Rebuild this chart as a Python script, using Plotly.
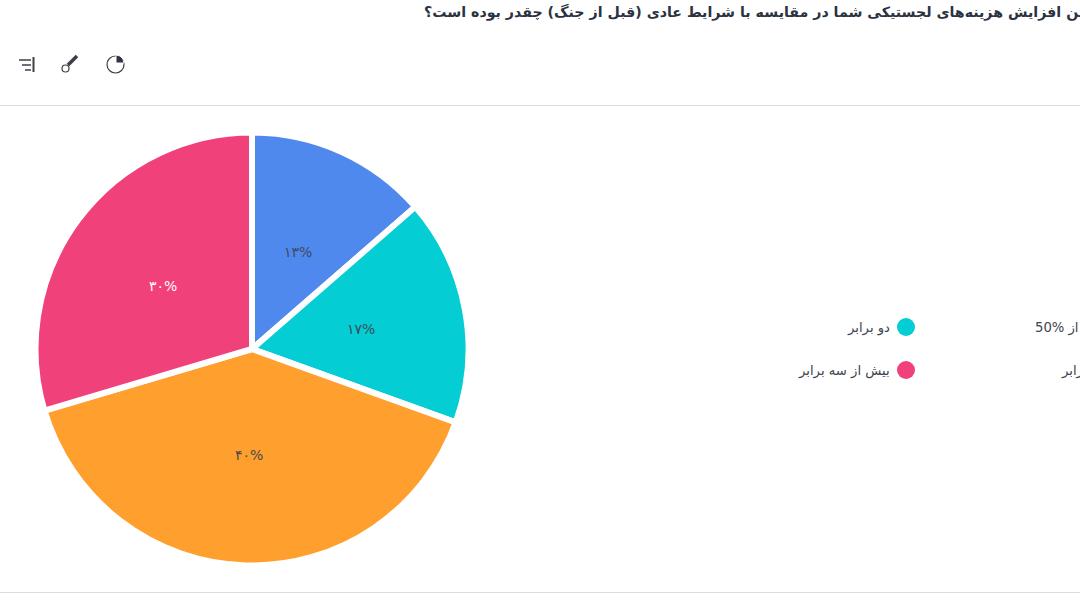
import math
import plotly.graph_objects as go

W, H = 1080, 603

title_text = "\u200fمیانگین افزایش هزینه\u200cهای لجستیکی شما در مقایسه با شرایط عادی (قبل از جنگ) چقدر بوده است؟"
categories = ["کمتر از %50", "دو برابر", "بین دو تا سه برابر", "بیش از سه برابر"]
values = [13.6, 16.9, 39.9, 29.6]
value_labels = ["۱۳%", "۱۷%", "۴۰%", "۳۰%"]
colors = ["#5089ED", "#04CDD4", "#FF9F2E", "#F0417B"]
label_colors = ["#3d4a5c", "#3d4a5c", "#4a4a48", "#ffffff"]

FONT = "DejaVu Sans, Noto Sans, sans-serif"
CX, CY, R = 252, 349, 216.5


def px(x):
    return x / W


def py(y):
    return 1 - y / H


def path(points, close=False):
    s = "M " + " L ".join(f"{px(x):.5f},{py(y):.5f}" for x, y in points)
    return s + (" Z" if close else "")


fig = go.Figure(
    go.Pie(
        labels=categories,
        values=values,
        customdata=value_labels,
        textinfo="none",
        sort=False,
        direction="clockwise",
        rotation=0,
        marker=dict(colors=colors, line=dict(color="#ffffff", width=6)),
        domain=dict(x=[px(CX - R), px(CX + R)], y=[py(CY + R), py(CY - R)]),
        showlegend=False,
        hovertemplate="%{label}: %{customdata}<extra></extra>",
    )
)

shapes = [
    dict(type="line", xref="paper", yref="paper", x0=0, x1=1, y0=py(105.5), y1=py(105.5),
         line=dict(color="#dcdcdc", width=1)),
    dict(type="line", xref="paper", yref="paper", x0=0, x1=1, y0=py(592.5), y1=py(592.5),
         line=dict(color="#dcdcdc", width=1)),
]

# toolbar icons
icon = "#3a3f4a"
for x0, x1, y in [(19, 31, 60), (22, 31, 65), (25, 31, 70)]:
    shapes.append(dict(type="line", xref="paper", yref="paper", x0=px(x0), x1=px(x1), y0=py(y), y1=py(y),
                       line=dict(color=icon, width=1.5)))
shapes.append(dict(type="line", xref="paper", yref="paper", x0=px(33.5), x1=px(33.5), y0=py(57), y1=py(72),
                   line=dict(color=icon, width=2)))
shapes.append(dict(type="line", xref="paper", yref="paper", x0=px(68), x1=px(77), y0=py(65), y1=py(56),
                   line=dict(color=icon, width=3.5)))
shapes.append(dict(type="circle", xref="paper", yref="paper", x0=px(62), x1=px(69), y0=py(72), y1=py(65),
                   line=dict(color=icon, width=1.2), fillcolor="#ffffff"))
shapes.append(dict(type="circle", xref="paper", yref="paper", x0=px(107), x1=px(124), y0=py(73), y1=py(56),
                   line=dict(color=icon, width=1.2), fillcolor="#ffffff"))
shapes.append(dict(type="path", xref="paper", yref="paper",
                   path=path([(116, 55), (120, 56), (123, 59), (124, 63), (116, 63)], True),
                   line=dict(color="#ffffff", width=1), fillcolor="#2f3440"))

# legend dots
shapes.append(dict(type="circle", xref="paper", yref="paper", x0=px(897), x1=px(915), y0=py(336), y1=py(318),
                   line=dict(width=0), fillcolor=colors[1]))
shapes.append(dict(type="circle", xref="paper", yref="paper", x0=px(897), x1=px(915), y0=py(379), y1=py(361),
                   line=dict(width=0), fillcolor=colors[3]))

annotations = [
    dict(text="<b>" + title_text + "</b>", x=px(422), y=py(12), xref="paper", yref="paper",
         xanchor="left", yanchor="middle", showarrow=False, align="left",
         font=dict(size=14.2, color="#2b3240", family=FONT)),
    dict(text="\u200f" + categories[1], x=px(892), y=py(328), xref="paper", yref="paper",
         xanchor="right", yanchor="middle", showarrow=False,
         font=dict(size=13.2, color="#3d4350", family=FONT)),
    dict(text="\u200f" + categories[3], x=px(892), y=py(371), xref="paper", yref="paper",
         xanchor="right", yanchor="middle", showarrow=False,
         font=dict(size=13.2, color="#3d4350", family=FONT)),
    dict(text="\u200f" + categories[0], x=px(1033), y=py(328), xref="paper", yref="paper",
         xanchor="left", yanchor="middle", showarrow=False,
         font=dict(size=13.2, color="#3d4350", family=FONT)),
    dict(text="\u200f" + categories[2], x=px(1059), y=py(371), xref="paper", yref="paper",
         xanchor="left", yanchor="middle", showarrow=False,
         font=dict(size=13.2, color="#3d4350", family=FONT)),
]

# value labels sit on each slice's mid-angle, about half the radius out
total = sum(values)
cumulative = 0
for value, label, color in zip(values, value_labels, label_colors):
    mid = (cumulative + value / 2) / total * 2 * math.pi
    cumulative += value
    annotations.append(dict(
        text=label,
        x=px(CX + 0.51 * R * math.sin(mid)), y=py(CY - 0.49 * R * math.cos(mid)),
        xref="paper", yref="paper", xanchor="center", yanchor="middle", showarrow=False,
        font=dict(size=14, color=color, family=FONT),
    ))

fig.update_layout(
    width=W,
    height=H,
    margin=dict(l=0, r=0, t=0, b=0),
    paper_bgcolor="#ffffff",
    shapes=shapes,
    annotations=annotations,
    font=dict(family=FONT),
)

fig.write_html(
    "out.html",
    config=dict(displayModeBar=False),
    post_script="document.body.style.margin='0';document.documentElement.style.overflow='hidden';",
)
